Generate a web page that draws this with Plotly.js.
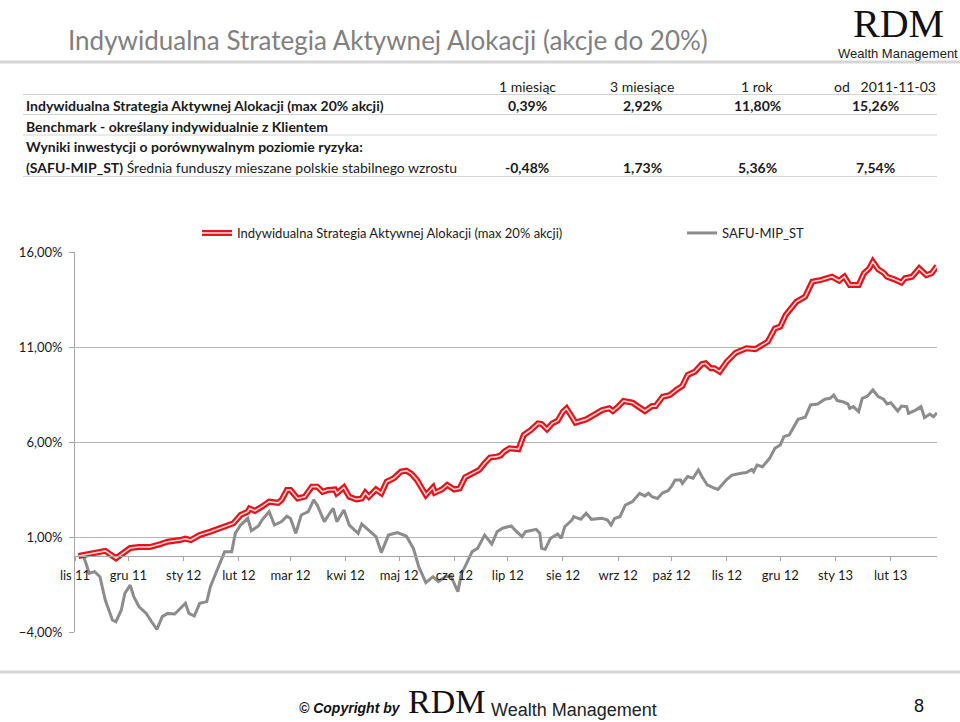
<!DOCTYPE html>
<html>
<head>
<meta charset="utf-8">
<script src="https://cdn.plot.ly/plotly-3.0.1.min.js"></script>
<style>
html,body{margin:0;padding:0;background:#fff;}
#chart{width:960px;height:722px;}
</style>
</head>
<body>
<div id="chart"></div>
<script>
// ---------- DATA ----------
const seriesNames = ['Indywidualna Strategia Aktywnej Alokacji (max 20% akcji)', 'SAFU-MIP_ST'];

const isaaDates = ['2011-11-03','2011-11-09','2011-11-18','2011-11-24','2011-11-28','2011-12-02','2011-12-07','2011-12-13','2011-12-19','2011-12-23',
'2011-12-30','2012-01-02','2012-01-05','2012-01-10','2012-01-16','2012-01-21','2012-01-26','2012-01-29','2012-02-02','2012-02-06',
'2012-02-07','2012-02-10','2012-02-14','2012-02-18','2012-02-23','2012-02-25','2012-02-28','2012-03-01','2012-03-05','2012-03-09',
'2012-03-13','2012-03-16','2012-03-19','2012-03-22','2012-03-26','2012-03-27','2012-03-31','2012-04-03','2012-04-07','2012-04-10',
'2012-04-12','2012-04-14','2012-04-18','2012-04-21','2012-04-24','2012-04-28','2012-05-02','2012-05-05','2012-05-08','2012-05-11',
'2012-05-16','2012-05-20','2012-05-21','2012-05-25','2012-05-28','2012-06-01','2012-06-04','2012-06-07','2012-06-12','2012-06-15',
'2012-06-18','2012-06-21','2012-06-25','2012-06-27','2012-06-29','2012-07-02','2012-07-07','2012-07-10','2012-07-14','2012-07-18',
'2012-07-20','2012-07-23','2012-07-26','2012-07-29','2012-08-01','2012-08-03','2012-08-06','2012-08-08','2012-08-14','2012-08-18',
'2012-08-23','2012-08-27','2012-08-29','2012-09-01','2012-09-04','2012-09-09','2012-09-13','2012-09-16','2012-09-20','2012-09-22',
'2012-09-26','2012-09-30','2012-10-04','2012-10-07','2012-10-10','2012-10-14','2012-10-18','2012-10-20','2012-10-23','2012-10-25',
'2012-10-28','2012-11-01','2012-11-06','2012-11-12','2012-11-17','2012-11-21','2012-11-24','2012-11-28','2012-12-01','2012-12-04',
'2012-12-10','2012-12-15','2012-12-19','2012-12-24','2012-12-30','2013-01-03','2013-01-06','2013-01-09','2013-01-14','2013-01-17',
'2013-01-20','2013-01-22','2013-01-25','2013-01-28','2013-01-30','2013-02-03','2013-02-07','2013-02-09','2013-02-13','2013-02-17',
'2013-02-21','2013-02-24','2013-02-27'];

const isaaValues = [0.00,0.10,0.27,-0.12,0.15,0.42,0.47,0.47,0.63,0.75,
0.84,0.91,0.84,1.10,1.28,1.46,1.63,1.72,2.16,2.33,
2.50,2.38,2.60,2.86,2.80,2.95,3.47,3.47,3.03,3.12,
3.65,3.65,3.38,3.47,3.50,3.30,3.61,3.12,2.98,3.03,
3.33,3.12,3.50,3.30,3.91,4.09,4.44,4.49,4.32,4.00,
3.21,3.61,3.33,3.50,3.74,3.50,3.56,4.14,4.39,4.53,
4.88,5.18,5.23,5.30,5.49,5.67,5.62,6.37,6.63,6.98,
6.95,6.67,6.98,7.12,7.60,7.77,7.33,7.02,7.19,7.42,
7.68,7.77,7.63,7.86,8.16,8.07,7.83,7.63,7.89,7.89,
8.38,8.47,8.77,8.95,9.53,9.70,10.10,10.14,9.88,9.88,
9.70,10.23,10.70,10.93,10.89,11.10,11.28,11.98,12.07,12.68,
13.38,13.65,14.44,14.53,14.70,14.49,14.70,14.26,14.26,14.88,
15.14,15.49,15.09,14.91,14.70,14.56,14.39,14.62,14.70,15.14,
14.79,14.88,15.26];

const safuDates = ['2011-11-03','2011-11-06','2011-11-09','2011-11-12','2011-11-15','2011-11-18','2011-11-22','2011-11-24','2011-11-27','2011-11-29',
'2011-12-02','2011-12-04','2011-12-07','2011-12-11','2011-12-14','2011-12-17','2011-12-20','2011-12-23','2011-12-27','2012-01-02',
'2012-01-04','2012-01-07','2012-01-10','2012-01-14','2012-01-16','2012-01-20','2012-01-24','2012-01-28','2012-01-30','2012-02-02',
'2012-02-06','2012-02-08','2012-02-12','2012-02-14','2012-02-18','2012-02-21','2012-02-25','2012-02-28','2012-03-01','2012-03-04',
'2012-03-07','2012-03-11','2012-03-14','2012-03-16','2012-03-20','2012-03-23','2012-03-25','2012-03-27','2012-03-31','2012-04-03',
'2012-04-08','2012-04-10','2012-04-14','2012-04-18','2012-04-21','2012-04-25','2012-04-30','2012-05-05','2012-05-09','2012-05-12',
'2012-05-16','2012-05-20','2012-05-23','2012-05-27','2012-05-30','2012-06-03','2012-06-05','2012-06-07','2012-06-11','2012-06-14',
'2012-06-18','2012-06-22','2012-06-25','2012-06-28','2012-07-03','2012-07-05','2012-07-09','2012-07-11','2012-07-17','2012-07-19',
'2012-07-20','2012-07-22','2012-07-25','2012-07-29','2012-07-31','2012-08-02','2012-08-06','2012-08-07','2012-08-11','2012-08-14',
'2012-08-17','2012-08-23','2012-08-26','2012-08-28','2012-08-30','2012-09-02','2012-09-05','2012-09-09','2012-09-13','2012-09-16',
'2012-09-18','2012-09-20','2012-09-23','2012-09-26','2012-09-29','2012-10-01','2012-10-03','2012-10-06','2012-10-07','2012-10-10',
'2012-10-13','2012-10-16','2012-10-18','2012-10-21','2012-10-24','2012-10-27','2012-11-01','2012-11-04','2012-11-09','2012-11-12',
'2012-11-15','2012-11-16','2012-11-18','2012-11-21','2012-11-25','2012-11-28','2012-12-01','2012-12-03','2012-12-06','2012-12-09',
'2012-12-11','2012-12-15','2012-12-18','2012-12-22','2012-12-26','2012-12-29','2012-12-31','2013-01-02','2013-01-05','2013-01-08',
'2013-01-09','2013-01-11','2013-01-14','2013-01-16','2013-01-19','2013-01-22','2013-01-25','2013-01-28','2013-01-30','2013-02-01',
'2013-02-05','2013-02-07','2013-02-10','2013-02-11','2013-02-15','2013-02-18','2013-02-20','2013-02-23','2013-02-25','2013-02-27'];

const safuValues = [0.00,-0.05,-0.91,-0.82,-1.09,-2.32,-3.37,-3.46,-2.84,-1.96,
-1.53,-2.14,-2.67,-3.02,-3.46,-3.86,-3.19,-3.02,-3.05,-2.49,
-3.02,-3.16,-2.49,-2.40,-1.61,-0.65,0.23,0.23,1.19,1.63,
1.98,1.33,1.58,1.89,2.33,1.63,1.81,2.10,1.98,1.19,
2.16,2.33,2.95,2.68,1.81,2.25,2.51,1.81,2.42,1.63,
1.19,1.68,1.37,1.02,0.18,1.10,1.23,1.05,0.40,-0.56,
-1.40,-1.09,-1.35,-1.09,-1.05,-1.88,-0.91,-0.56,0.23,0.40,
1.10,0.63,1.28,1.46,1.58,1.37,1.02,1.28,1.40,1.19,
0.40,0.35,0.93,1.16,0.93,1.54,1.89,2.07,1.93,2.25,
1.93,1.98,1.89,1.63,1.98,2.07,2.68,2.86,3.30,3.16,
3.30,3.12,3.03,3.33,3.44,3.68,4.00,4.00,3.82,4.18,
4.09,4.53,4.18,3.74,3.61,3.50,4.04,4.26,4.35,4.39,
4.56,4.44,4.79,4.70,5.14,5.67,5.84,6.28,6.37,6.89,
7.19,7.30,7.95,8.00,8.25,8.30,8.47,8.18,8.12,8.00,
7.77,7.86,7.60,8.30,8.42,8.74,8.39,8.25,8.00,8.07,
7.63,7.89,7.86,7.51,7.68,7.86,7.28,7.47,7.33,7.54];

const tickDates = ['2011-11-01','2011-12-01','2012-01-01','2012-02-01','2012-03-01','2012-04-01','2012-05-01','2012-06-01',
'2012-07-01','2012-08-01','2012-09-01','2012-10-01','2012-11-01','2012-12-01','2013-01-01','2013-02-01'];
const tickLabels = ['lis 11','gru 11','sty 12','lut 12','mar 12','kwi 12','maj 12','cze 12',
'lip 12','sie 12','wrz 12','paź 12','lis 12','gru 12','sty 13','lut 13'];

const tableHeaders = ['1 miesiąc', '3 miesiące', '1 rok', 'od   2011-11-03'];
const tableRowLabels = ['<b>Indywidualna Strategia Aktywnej Alokacji (max 20% akcji)</b>',
  '<b>Benchmark - określany indywidualnie z Klientem</b>',
  '<b>Wyniki inwestycji o porównywalnym poziomie ryzyka:</b>',
  '<b>(SAFU-MIP_ST)</b> Średnia funduszy mieszane polskie stabilnego wzrostu'];
const isaaReturns = ['0,39%', '2,92%', '11,80%', '15,26%'];
const safuReturns = ['-0,48%', '1,73%', '5,36%', '7,54%'];

const chartTitle = 'Indywidualna Strategia Aktywnej Alokacji (akcje do 20%)';

// ---------- GEOMETRY HELPERS ----------
const L = 75, R = 937, T = 252, B = 632;
const W = R - L, H = B - T;
const fx = px => (px - L) / W;
const fy = py => (B - py) / H;

const FONT = 'Lato, "Liberation Sans", sans-serif';
const TXT = '#1a1a1a';

const annotations = [];
function addText(text, px, py, opts) {
  opts = opts || {};
  annotations.push({
    xref: 'paper', yref: 'paper', x: fx(px), y: fy(py),
    xanchor: opts.xanchor || 'left', yanchor: 'middle',
    text: text, showarrow: false,
    font: {family: opts.family || FONT, size: opts.size || 13, color: opts.color || TXT}
  });
}

// title
addText(chartTitle, 66, 40, {size: 26, color: '#808080'});
// logo top right
addText('RDM', 898, 23, {xanchor: 'center', size: 40, family: '"Liberation Serif", serif', color: '#111'});
addText('Wealth Management', 898, 54, {xanchor: 'center', size: 13, family: '"Liberation Sans", Arial, sans-serif', color: '#222'});

// table
const colX = [527, 642, 757, 875];
addText(tableHeaders[0], colX[0], 86, {xanchor: 'center', size: 14});
addText(tableHeaders[1], colX[1], 86, {xanchor: 'center', size: 14});
addText(tableHeaders[2], colX[2], 86, {xanchor: 'center', size: 14});
addText(tableHeaders[3], 885, 86, {xanchor: 'center', size: 14});
const rowY = [105, 126, 147, 167];
tableRowLabels.forEach((t, i) => addText(t, 24, rowY[i], {size: 14}));
isaaReturns.forEach((t, i) => addText('<b>' + t + '</b>', colX[i], rowY[0], {xanchor: 'center', size: 14}));
safuReturns.forEach((t, i) => addText('<b>' + t + '</b>', colX[i], rowY[3], {xanchor: 'center', size: 14}));

// footer
addText('<b><i>© Copyright by</i></b>', 297, 708, {size: 14, family: '"Liberation Sans", Arial, sans-serif', color: '#111'});
addText('RDM', 446, 701, {xanchor: 'center', size: 34, family: '"Liberation Serif", serif', color: '#111'});
addText('Wealth Management', 489, 710, {size: 18, family: '"Liberation Sans", Arial, sans-serif', color: '#222'});
addText('8', 919, 706, {xanchor: 'center', size: 18, family: '"Liberation Sans", Arial, sans-serif', color: '#111'});

// shapes (separator lines)
const shapes = [];
function hline(py, x0, x1, color, width) {
  shapes.push({type: 'line', xref: 'paper', yref: 'paper', x0: fx(x0), x1: fx(x1), y0: fy(py), y1: fy(py),
    line: {color: color, width: width}});
}
hline(62, 0, 960, '#d6d6d6', 3);
hline(94.5, 23, 937, '#d3d3d3', 1);
hline(114.5, 23, 937, '#d3d3d3', 1);
hline(135, 23, 937, '#d3d3d3', 1);
hline(176.5, 23, 937, '#d3d3d3', 1);
hline(672, 0, 960, '#d6d6d6', 3);

// ---------- TRACES ----------
const traces = [
  {x: safuDates, y: safuValues, type: 'scatter', mode: 'lines', name: seriesNames[1],
   line: {color: '#8c8c8c', width: 3}, legend: 'legend2'},
  {x: isaaDates, y: isaaValues, type: 'scatter', mode: 'lines', name: seriesNames[0],
   line: {color: '#e3131b', width: 6}, legend: 'legend'},
  {x: isaaDates, y: isaaValues, type: 'scatter', mode: 'lines', name: ' ',
   line: {color: '#ffd6d6', width: 1.6}, legend: 'legend3'}
];

const legendY = fy(233);
const layout = {
  width: 960, height: 722,
  margin: {l: L, r: 960 - R, t: T, b: 722 - B},
  paper_bgcolor: '#fff', plot_bgcolor: '#fff',
  separators: ', ',
  showlegend: true,
  legend: {orientation: 'h', x: fx(197), y: legendY, xanchor: 'left', yanchor: 'middle',
    bgcolor: 'rgba(0,0,0,0)', font: {family: FONT, size: 13, color: TXT}},
  legend2: {orientation: 'h', x: fx(682), y: legendY, xanchor: 'left', yanchor: 'middle',
    bgcolor: 'rgba(0,0,0,0)', font: {family: FONT, size: 13, color: TXT}},
  legend3: {orientation: 'h', x: fx(197), y: legendY, xanchor: 'left', yanchor: 'middle',
    bgcolor: 'rgba(0,0,0,0)', font: {family: FONT, size: 13, color: TXT}},
  xaxis: {
    type: 'date', range: ['2011-11-01', '2013-02-27'],
    tickmode: 'array', tickvals: tickDates, ticktext: tickLabels,
    showgrid: false, zeroline: false,
    showline: true, linecolor: '#a6a6a6', linewidth: 1,
    ticks: 'outside', ticklen: 4, tickcolor: '#a6a6a6',
    anchor: 'free', position: 0.2,
    ticklabelstandoff: 3,
    tickfont: {family: FONT, size: 13, color: TXT}
  },
  yaxis: {
    range: [-4, 16], tick0: -4, dtick: 5, tickmode: 'linear',
    tickformat: '.2f', ticksuffix: '%',
    showgrid: true, gridcolor: '#b5b5b5', gridwidth: 1,
    zeroline: false,
    showline: true, linecolor: '#a6a6a6', linewidth: 1,
    ticks: 'outside', ticklen: 5, tickcolor: '#a6a6a6',
    ticklabelstandoff: 4,
    tickfont: {family: FONT, size: 13, color: TXT}
  },
  annotations: annotations,
  shapes: shapes
};

Plotly.newPlot('chart', traces, layout, {displayModeBar: false, staticPlot: true});
</script>
</body>
</html>
